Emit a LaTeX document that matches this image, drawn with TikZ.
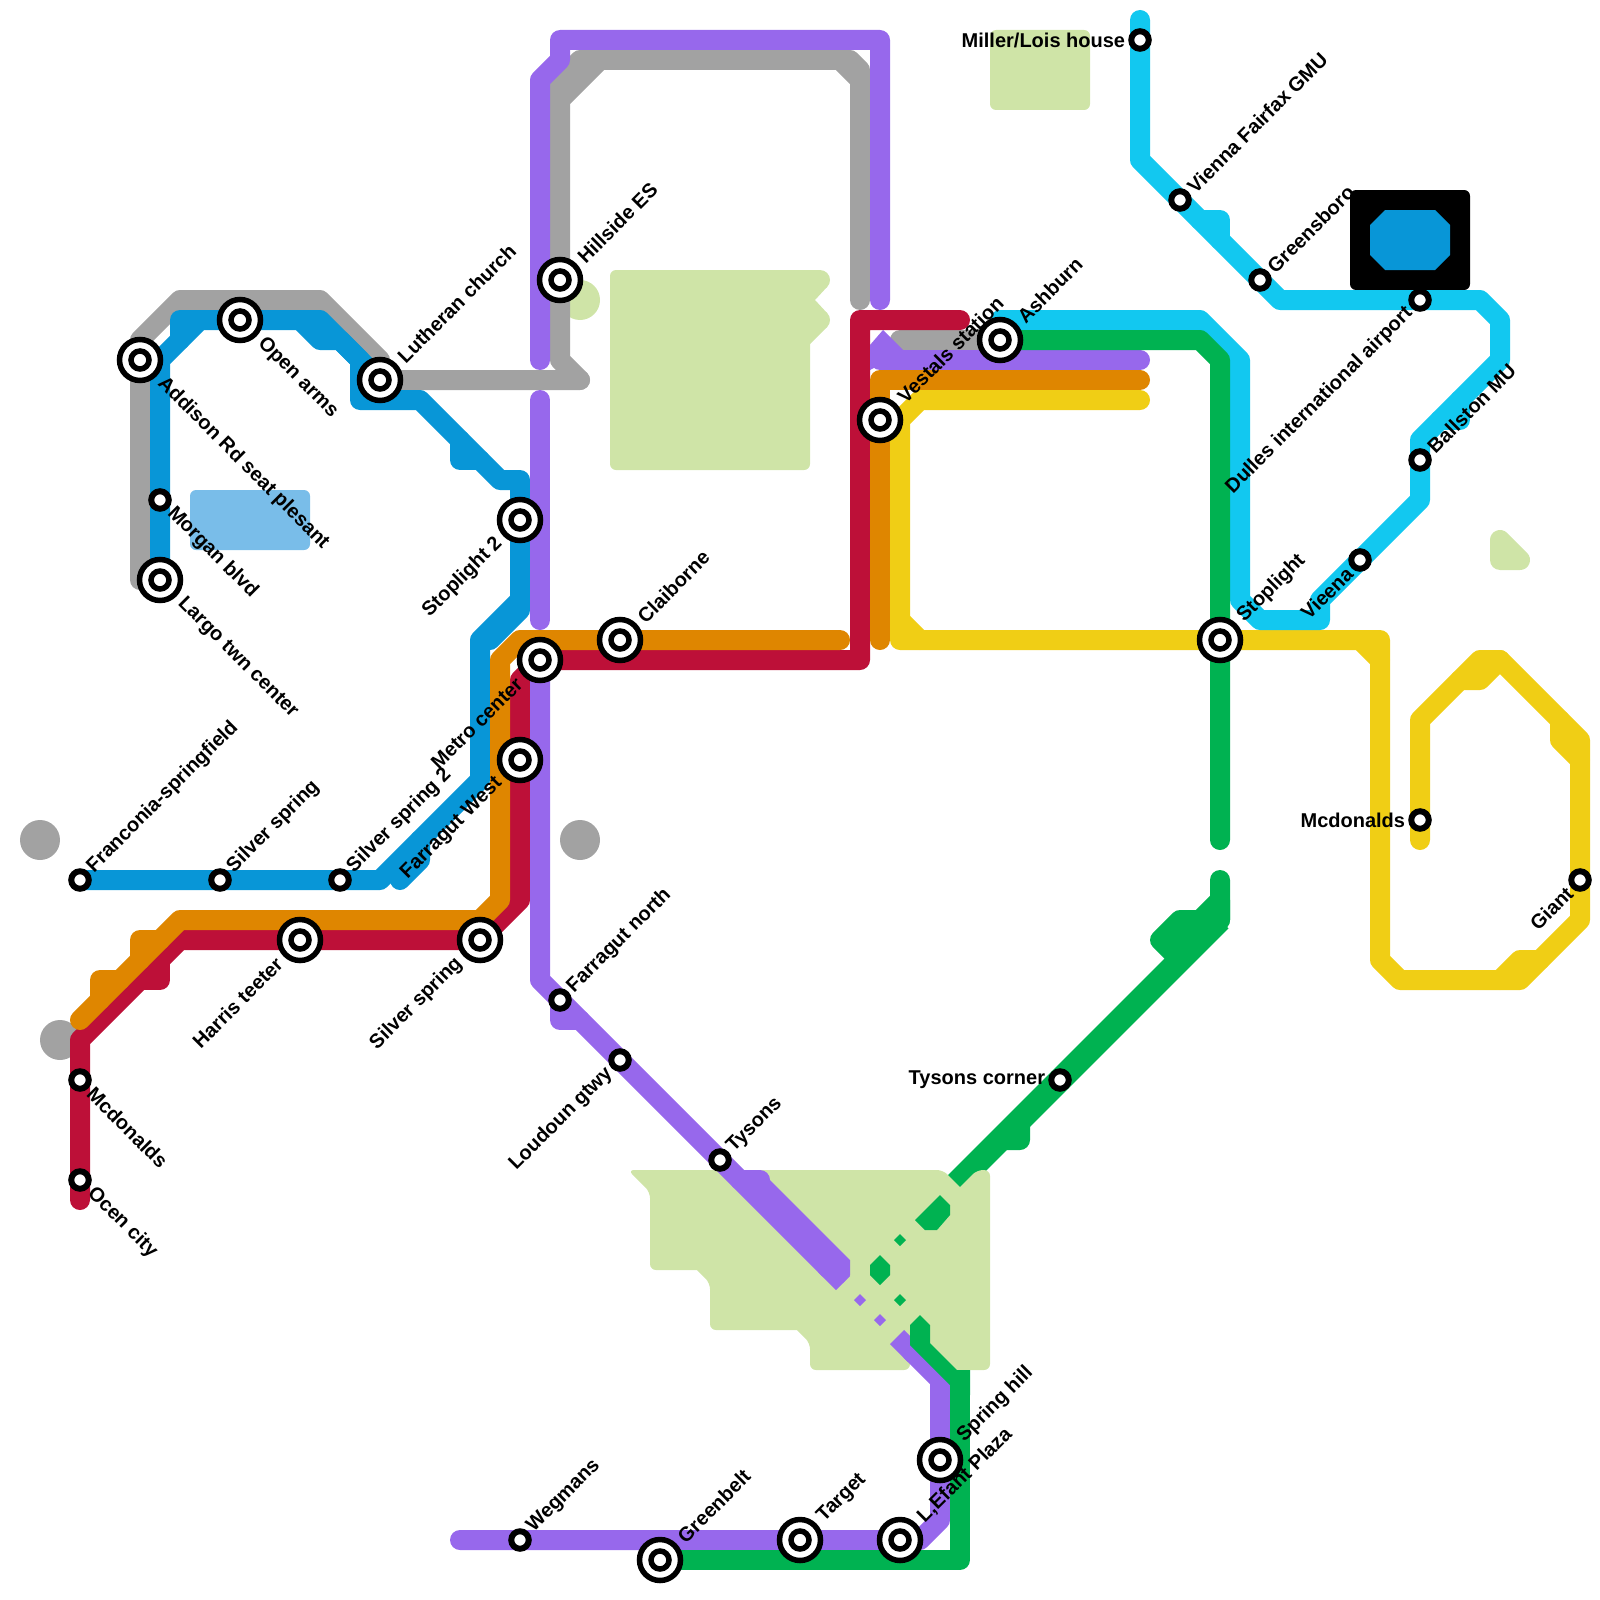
\documentclass[tikz,border=0pt]{standalone}
\usepackage{fontspec}
\setmainfont{Liberation Sans}
\usepackage{tikz}
\usetikzlibrary{arrows.meta, backgrounds, positioning}

\definecolor{linegray}{HTML}{A2A2A2}
\definecolor{lineblue}{HTML}{0896D7}
\definecolor{linepurple}{HTML}{9768EC}
\definecolor{linered}{HTML}{BD1038}
\definecolor{lineorange}{HTML}{DF8600}
\definecolor{lineyellow}{HTML}{F0CE15}
\definecolor{linegreen}{HTML}{00B251}
\definecolor{linecyan}{HTML}{12C8F0}
\definecolor{parkgreen}{HTML}{CFE4A7}
\definecolor{waterblue}{HTML}{79BDE9}

\begin{document}
\begin{tikzpicture}[
    x=1pt, y=-1pt,
    metro/.style={line width=20pt, line cap=round, line join=round},
    park/.style={fill=parkgreen, rounded corners=6pt},
    landmark/.style={circle, fill=linegray, minimum size=40pt, inner sep=0pt},
    station/.style={circle, draw=black, fill=white, line width=6pt, minimum size=17.5pt, inner sep=0pt},
    hub/.style={circle, draw=black, fill=white, line width=5.5pt, minimum size=41pt, inner sep=0pt,
        path picture={\draw[line width=5.5pt, fill=white] (path picture bounding box.center) circle (9pt);}},
    tag/.style={font=\fontsize{20}{24}\selectfont\bfseries, inner sep=3pt},
    tagne/.style={tag, rotate=45, anchor=west},
    tagse/.style={tag, rotate=-45, anchor=west},
    tagsw/.style={tag, rotate=45, anchor=east},
    tagw/.style={tag, anchor=east},
    far/.style={inner xsep=6pt}
]
\useasboundingbox (0,0) rectangle (1600,1600);

% Small stations
\node[station] (franconia) at (80,880) {};
\node[station] (silver) at (220,880) {};
\node[station] (silvertwo) at (340,880) {};
\node[station] (morgan) at (160,500) {};
\node[station] (mcdleft) at (80,1080) {};
\node[station] (ocen) at (80,1180) {};
\node[station] (farnorth) at (560,1000) {};
\node[station] (loudoun) at (620,1060) {};
\node[station] (tysons) at (720,1160) {};
\node[station] (wegmans) at (520,1540) {};
\node[station] (miller) at (1140,40) {};
\node[station] (vienna) at (1180,200) {};
\node[station] (greensboro) at (1260,280) {};
\node[station] (dulles) at (1420,300) {};
\node[station] (ballston) at (1420,460) {};
\node[station] (vieena) at (1360,560) {};
\node[station] (mcdright) at (1420,820) {};
\node[station] (giant) at (1580,880) {};
\node[station] (tysonscorner) at (1060,1080) {};

% Hubs
\node[hub] (addison) at (140,360) {};
\node[hub] (openarms) at (240,320) {};
\node[hub] (lutheran) at (380,380) {};
\node[hub] (largo) at (160,580) {};
\node[hub] (hillside) at (560,280) {};
\node[hub] (stoptwo) at (520,520) {};
\node[hub] (metro) at (540,660) {};
\node[hub] (claiborne) at (620,640) {};
\node[hub] (farwest) at (520,760) {};
\node[hub] (harris) at (300,940) {};
\node[hub] (silverhub) at (480,940) {};
\node[hub] (vestals) at (880,420) {};
\node[hub] (ashburn) at (1000,340) {};
\node[hub] (stoplight) at (1220,640) {};
\node[hub] (springhill) at (940,1460) {};
\node[hub] (lefant) at (900,1540) {};
\node[hub] (target) at (800,1540) {};
\node[hub] (greenbelt) at (660,1560) {};

% Labels
\node[tagne] (tfranconia) at (franconia.north east) {Franconia-springfield};
\node[tagne] (tsilver) at (silver.north east) {Silver spring};
\node[tagne] (tsilvertwo) at (silvertwo.north east) {Silver spring 2};
\node[tagse] (tmorgan) at (morgan.south east) {Morgan blvd};
\node[tagse] (tmcdleft) at (mcdleft.south east) {Mcdonalds};
\node[tagse] (tocen) at (ocen.south east) {Ocen city};
\node[tagne] (tfarnorth) at (farnorth.north east) {Farragut north};
\node[tagsw] (tloudoun) at (loudoun.south west) {Loudoun gtwy};
\node[tagne] (ttysons) at (tysons.north east) {Tysons};
\node[tagne] (twegmans) at (wegmans.north east) {Wegmans};
\node[tagw] (tmiller) at (miller.west) {Miller/Lois house};
\node[tagne] (tvienna) at (vienna.north east) {Vienna Fairfax GMU};
\node[tagne] (tgreensboro) at (greensboro.north east) {Greensboro};
\node[tagsw] (tdulles) at (dulles.south west) {Dulles international airport};
\node[tagne] (tballston) at (ballston.north east) {Ballston MU};
\node[tagsw] (tvieena) at (vieena.south west) {Vieena};
\node[tagw] (tmcdright) at (mcdright.west) {Mcdonalds};
\node[tagsw] (tgiant) at (giant.south west) {Giant};
\node[tagw] (ttysonscorner) at (tysonscorner.west) {Tysons corner};
\node[tagse, far] (taddison) at (addison.south east) {Addison Rd seat plesant};
\node[tagse, far] (topenarms) at (openarms.south east) {Open arms};
\node[tagne, far] (tlutheran) at (lutheran.north east) {Lutheran church};
\node[tagse, far] (tlargo) at (largo.south east) {Largo twn center};
\node[tagne, far] (thillside) at (hillside.north east) {Hillside ES};
\node[tagsw, far] (tstoptwo) at (stoptwo.south west) {Stoplight 2};
\node[tagsw, far] (tmetro) at (metro.south west) {Metro center};
\node[tagne, far] (tclaiborne) at (claiborne.north east) {Claiborne};
\node[tagsw, far] (tfarwest) at (farwest.south west) {Farragut West};
\node[tagsw, far] (tharris) at (harris.south west) {Harris teeter};
\node[tagsw, far] (tsilverhub) at (silverhub.south west) {Silver spring};
\node[tagne, far] (tvestals) at (vestals.north east) {Vestals station};
\node[tagne, far] (tashburn) at (ashburn.north east) {Ashburn};
\node[tagne, far] (tstoplight) at (stoplight.north east) {Stoplight};
\node[tagne, far] (tspringhill) at (springhill.north east) {Spring hill};
\node[tagne, far] (tlefant) at (lefant.north east) {L,Efant Plaza};
\node[tagne, far] (ttarget) at (target.north east) {Target};
\node[tagne, far] (tgreenbelt) at (greenbelt.north east) {Greenbelt};

\begin{scope}[on background layer]

% Green diagonal runs under the park
\draw[metro, linegreen] (1220,880) -- (1220,920) -- (tysonscorner.center) -- (940,1200);
\draw[linegreen, line width=24pt] (1220,920) -- (tysonscorner.center) -- (940,1200);

% Parks and water
\fill[park] (990,30) rectangle (1090,110);
\fill[park] (610,270) rectangle (810,470);
\fill[parkgreen] (800,270) -- (820,270) -- (827,287) -- (815,300) -- (827,313) -- (827,327) -- (810,344) -- (800,344) -- cycle;
\fill[parkgreen] (820,280) circle (10);
\fill[parkgreen] (820,320) circle (10);
\draw[metro, parkgreen, fill=parkgreen] (1500,540) -- (1520,560) -- (1500,560) -- cycle;
\fill[park] (628,1170) -- (943,1170) [sharp corners] -- (960,1187) [rounded corners=6pt] -- (977,1170) -- (990,1170) -- (990,1370) -- (950,1370) -- (925,1345) -- (910,1358) -- (910,1370) -- (810,1370) -- (810,1343) [sharp corners] -- (797,1330) [rounded corners=6pt] -- (710,1330) -- (710,1283) [sharp corners] -- (697,1270) [rounded corners=6pt] -- (650,1270) -- (650,1192) -- cycle;
\fill[parkgreen] (580,300) circle (20);
\fill[waterblue, rounded corners=6pt] (190,490) rectangle (310,550);
\fill[black, rounded corners=6pt] (1350,190) rectangle (1470,290);
\fill[lineblue] (1385,210) -- (1435,210) -- (1450,225) -- (1450,255) -- (1435,270) -- (1385,270) -- (1370,255) -- (1370,225) -- cycle;

% Grey spots
\node[landmark] (spotone) at (40,840) {};
\node[landmark] (spottwo) at (580,840) {};
\node[landmark] (spotthree) at (60,1040) {};

% Grey line
\draw[metro, linegray] (140,580) -- (140,340) -- (180,300) -- (320,300) -- (380,360) -- (lutheran.center) -- (580,380);
\draw[metro, linegray] (580,380) -- (560,360) -- (hillside.center) -- (560,100) -- (600,60) -- (840,60) -- (860,80) -- (860,300);
\draw[metro, linegray] (560,100) -- (560,80) -- (580,60) -- (600,60);
\draw[metro, linegray] (840,60) -- (850,60) -- (860,70) -- (860,80);
\draw[metro, linegray] (900,340) -- (ashburn.center);

% Blue line
\draw[metro, lineblue] (largo.center) -- (morgan.center) -- (160,360) -- (200,320) -- (openarms.center) -- (320,320) -- (360,360) -- (360,400) -- (420,400) -- (500,480) -- (520,480) -- (stoptwo.center) -- (520,600) -- (480,640) -- (480,780) -- (380,880) -- (silvertwo.center) -- (silver.center) -- (franconia.center);
\draw[metro, lineblue] (180,340) -- (180,320) -- (200,320);
\draw[metro, lineblue] (300,320) -- (320,340) -- (340,340) -- (lutheran.center);
\draw[metro, lineblue] (460,440) -- (460,460) -- (480,460);
\draw[metro, lineblue] (420,840) -- (420,860) -- (400,880);
\draw[metro, lineblue] (520,600) -- (520,610) -- (490,640);

% Red line
\draw[metro, linered] (80,1200) -- (ocen.center) -- (mcdleft.center) -- (80,1040) -- (180,940) -- (harris.center) -- (silverhub.center) -- (520,900) -- (farwest.center) -- (520,680) -- (metro.center) -- (860,660) -- (860,320) -- (960,320);
\draw[metro, linered] (140,980) -- (160,980) -- (160,960);

% Orange line
\draw[metro, lineorange] (80,1020) -- (180,920) -- (480,920) -- (500,900) -- (500,660) -- (520,640) -- (claiborne.center) -- (840,640);
\draw[metro, lineorange] (140,960) -- (140,940) -- (160,940);
\draw[metro, lineorange] (100,1000) -- (100,980) -- (120,980);
\draw[metro, lineorange] (880,640) -- (vestals.center) -- (880,380) -- (1140,380);

% Purple line
\draw[metro, linepurple] (540,360) -- (540,80) -- (560,60) -- (560,40) -- (880,40) -- (880,300);
\draw[metro, linepurple] (540,400) -- (540,620);
\draw[metro, linepurple, -{Butt Cap}] (metro.center) -- (540,980) -- (farnorth.center) -- (loudoun.center) -- (tysons.center) -- (843,1283);
\draw[metro, linepurple] (farnorth.center) -- (560,1020) -- (580,1020);
\draw[metro, linepurple] (740,1180) -- (760,1180);
\fill[linepurple] (768,1178) -- (850,1260) -- (850,1275) -- (843,1283) -- (740,1180) -- cycle;
\draw[metro, linepurple, {Butt Cap}-] (897,1337) -- (940,1380) -- (springhill.center) -- (940,1520) -- (920,1540) -- (lefant.center) -- (target.center) -- (wegmans.center) -- (460,1540);
\draw[metro, linepurple] (880,360) -- (1140,360);
\fill[linepurple] (870,345) -- (883,330) -- (905,352) -- (870,370) -- cycle;
\fill[linepurple] (860,1294) -- (866,1300) -- (860,1306) -- (854,1300) -- cycle;
\fill[linepurple] (880,1314) -- (886,1320) -- (880,1326) -- (874,1320) -- cycle;

% Yellow line
\draw[metro, lineyellow] (1140,400) -- (920,400) -- (900,420) -- (900,640) -- (stoplight.center) -- (1380,640) -- (1380,960) -- (1400,980) -- (1520,980) -- (1580,920) -- (giant.center) -- (1580,740) -- (1500,660) -- (1480,660) -- (1420,720) -- (mcdright.center) -- (1420,840);
\draw[metro, lineyellow] (900,620) -- (920,640);
\draw[metro, lineyellow] (1360,640) -- (1380,660);
\draw[metro, lineyellow] (1460,680) -- (1480,680) -- (1500,660);
\draw[metro, lineyellow] (1560,720) -- (1560,740) -- (1580,760);
\draw[metro, lineyellow] (1500,980) -- (1520,960) -- (1540,960);

% Cyan line
\draw[metro, linecyan] (1140,20) -- (miller.center) -- (1140,160) -- (vienna.center) -- (greensboro.center) -- (1280,300) -- (dulles.center) -- (1480,300) -- (1500,320) -- (1500,360) -- (1420,440) -- (ballston.center) -- (1420,500) -- (vieena.center) -- (1320,600) -- (1320,620) -- (1260,620) -- (1240,600) -- (1240,360) -- (1200,320) -- (1000,320);
\draw[metro, linecyan] (1200,220) -- (1220,220) -- (1220,240);
\draw[metro, linecyan] (1440,420) -- (1460,420) -- (1460,400);

% Green line
\draw[metro, linegreen] (ashburn.center) -- (1200,340) -- (1220,360) -- (stoplight.center) -- (1220,840);
\draw[metro, linegreen, fill=linegreen] (1220,900) -- (1200,920) -- (1180,920) -- (1160,940) -- (1180,960) -- (1220,920) -- cycle;
\draw[metro, linegreen] (1020,1120) -- (1020,1140) -- (1000,1140) -- (980,1160);
\fill[linegreen] (940,1195) -- (950,1205) -- (950,1215) -- (937,1230) -- (925,1230) -- (915,1220) -- cycle;
\fill[linegreen] (880,1255) -- (890,1265) -- (890,1275) -- (880,1285) -- (870,1275) -- (870,1265) -- cycle;
\fill[linegreen] (900,1234) -- (906,1240) -- (900,1246) -- (894,1240) -- cycle;
\fill[linegreen] (900,1294) -- (906,1300) -- (900,1306) -- (894,1300) -- cycle;
\fill[linegreen] (920,1315) -- (930,1325) -- (930,1343) -- (957,1370) -- (950,1385) -- (910,1345) -- (910,1325) -- cycle;
\draw[metro, linegreen, {Butt Cap}-] (960,1370) -- (960,1560) -- (greenbelt.center);

\end{scope}

\end{tikzpicture}
\end{document}
